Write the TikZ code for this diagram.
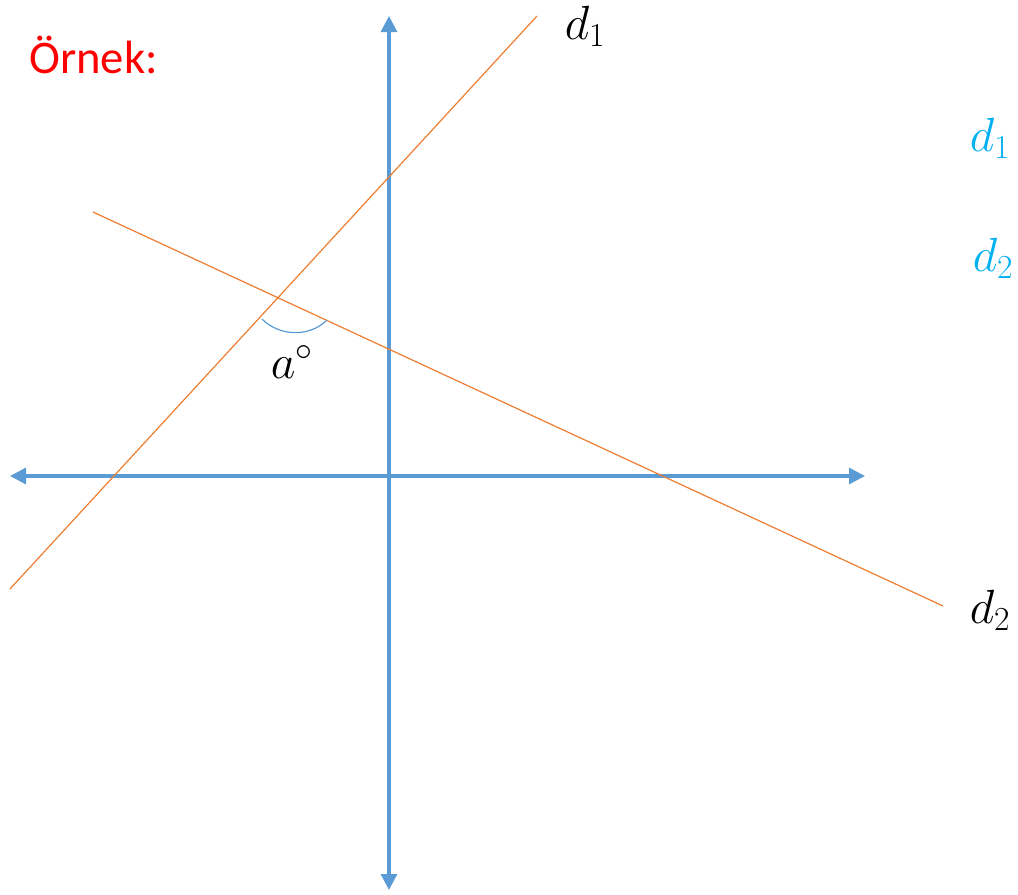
\RequirePackage{fix-cm}
\documentclass[tikz,border=0pt]{standalone}
\usepackage{fontspec}
\setmainfont{Carlito}
\usetikzlibrary{arrows.meta}
\definecolor{axisblue}{HTML}{5B9BD5}
\definecolor{lineorange}{HTML}{ED7D31}
\definecolor{labelblue}{HTML}{00B0F0}
\tikzset{
  axis/.style={axisblue, line width=2.3pt, {Triangle[length=12pt,width=12pt]}-{Triangle[length=12pt,width=12pt]}},
  dline/.style={lineorange, line width=0.9pt},
  anglearc/.style={axisblue, line width=0.9pt},
  mathlabel/.style={font=\fontsize{36}{42}\selectfont, inner sep=0pt},
  title/.style={text=red, font=\fontsize{35}{42}\selectfont, inner sep=0pt}
}

\begin{document}
\begin{tikzpicture}[x=0.75pt, y=-0.75pt]

  \useasboundingbox (0,0) rectangle (1018,894);

  % axes
  \coordinate (ytop) at (389,16);
  \coordinate (ybot) at (389,890);
  \coordinate (xleft) at (10,476);
  \coordinate (xright) at (865,476);
  \draw [axis] (ybot) -- (ytop);
  \draw [axis] (xleft) -- (xright);

  % the two lines
  \coordinate (d1start) at (10,589);
  \coordinate (d1end) at (537,16);
  \coordinate (d2start) at (93,212);
  \coordinate (d2end) at (943,606);
  \draw [dline] (d1start) -- (d1end);
  \draw [dline] (d2start) -- (d2end);

  % angle between them
  \coordinate (arcleft) at (262,319);
  \coordinate (arcright) at (327,320);
  \draw [anglearc] (arcleft) .. controls (280,337) and (310,337) .. (arcright);

  \node (angle) [mathlabel] at (292,362) {$a^\circ$};
  \node (d1label) [mathlabel] at (585,26) {$d_1$};
  \node (d2label) [mathlabel] at (990,610) {$d_2$};
  \node (d1blue) [mathlabel, text=labelblue] at (990,138) {$d_1$};
  \node (d2blue) [mathlabel, text=labelblue] at (993,258) {$d_2$};
  \node (example) [title, anchor=west] at (29,55) {Örnek:};

\end{tikzpicture}
\end{document}
